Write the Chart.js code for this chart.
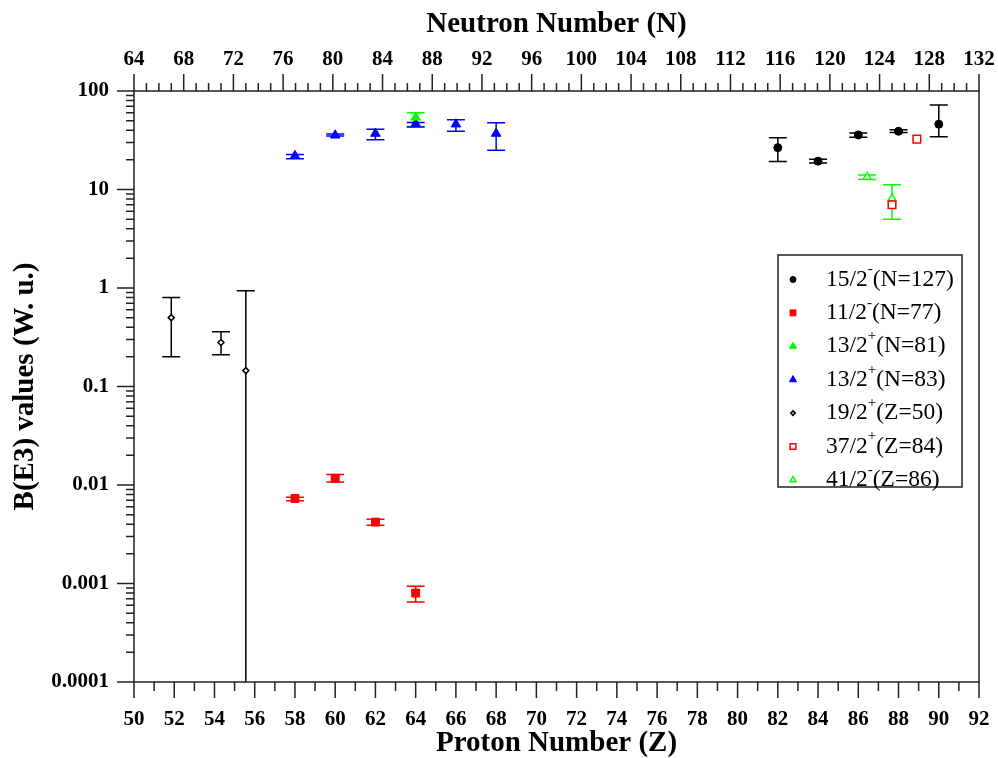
<!DOCTYPE html>
<html>
<head>
<meta charset="utf-8">
<script src="https://cdn.jsdelivr.net/npm/chart.js@4.4.1/dist/chart.umd.min.js"></script>
<style>
  html, body { margin: 0; padding: 0; background: #fff; }
  canvas { display: block; }
</style>
</head>
<body>
<canvas id="chart" width="998" height="758"></canvas>
<script>
// axis ticks
const zTicks = [50, 52, 54, 56, 58, 60, 62, 64, 66, 68, 70, 72, 74, 76, 78, 80, 82, 84, 86, 88, 90, 92];
const nTicks = [64, 68, 72, 76, 80, 84, 88, 92, 96, 100, 104, 108, 112, 116, 120, 124, 128, 132];
const yTicks = [0.0001, 0.001, 0.01, 0.1, 1, 10, 100];
const yTickLabels = ['0.0001', '0.001', '0.01', '0.1', '1', '10', '100'];

// 15/2- isomers, N=127, vs Z
const zN127 = [82, 84, 86, 88, 90];
const bN127 = [26.6, 19.4, 35.8, 39, 46];
const loN127 = [19.2, 18.6, 34, 38, 34.4];
const hiN127 = [33.6, 20.3, 37.5, 40.5, 72];

// 11/2- isomers, N=77, vs Z
const zN77 = [58, 60, 62, 64];
const bN77 = [0.0073, 0.0117, 0.0042, 0.0008];
const loN77 = [0.0069, 0.0107, 0.0039, 0.00065];
const hiN77 = [0.0075, 0.0128, 0.0045, 0.00094];

// 13/2+ isomers, N=81, vs Z
const zN81 = [64];
const bN81 = [54];
const loN81 = [43.5];
const hiN81 = [60];

// 13/2+ isomers, N=83, vs Z
const zN83 = [58, 60, 62, 64, 66, 68];
const bN83 = [22, 35.5, 37, 46.5, 46, 37];
const loN83 = [20.5, 35, 32, 43.2, 39, 25];
const hiN83 = [22.6, 36.5, 41, 47.8, 51, 47.5];

// 19/2+ isomers, Z=50, vs N
const nZ50 = [67, 71, 73];
const bZ50 = [0.5, 0.28, 0.145];
const loZ50 = [0.2, 0.21, 0.00001];
const hiZ50 = [0.8, 0.36, 0.94];

// 37/2+ isomers, Z=84, vs N
const nZ84 = [125, 127];
const bZ84 = [7, 32.5];

// 41/2- isomers, Z=86, vs N
const nZ86 = [123, 125];
const bZ86 = [13.4, 8.1];
const loZ86 = [12.6, 5];
const hiZ86 = [14, 11.2];

const pts = (xs, ys) => xs.map((x, i) => ({ x: x, y: ys[i] }));

Chart.defaults.font.family = "'Liberation Serif', 'Times New Roman', serif";
Chart.defaults.color = '#000';

const datasets = [
  { label: '15/2⁻(N=127)', data: pts(zN127, bN127), lo: loN127, hi: hiN127, xAxisID: 'x',
    pointStyle: 'circle', pointRadius: 4, backgroundColor: '#000', borderColor: '#000', borderWidth: 1 },
  { label: '11/2⁻(N=77)', data: pts(zN77, bN77), lo: loN77, hi: hiN77, xAxisID: 'x',
    pointStyle: 'rect', pointRadius: 5.6, backgroundColor: '#ff0000', borderColor: '#ff0000', borderWidth: 1 },
  { label: '13/2⁺(N=81)', data: pts(zN81, bN81), lo: loN81, hi: hiN81, xAxisID: 'x',
    pointStyle: 'triangle', pointRadius: 5.5, backgroundColor: '#00ff00', borderColor: '#00ff00', borderWidth: 1 },
  { label: '13/2⁺(N=83)', data: pts(zN83, bN83), lo: loN83, hi: hiN83, xAxisID: 'x',
    pointStyle: 'triangle', pointRadius: 5.5, backgroundColor: '#0000ff', borderColor: '#0000ff', borderWidth: 1 },
  { label: '19/2⁺(Z=50)', data: pts(nZ50, bZ50), lo: loZ50, hi: hiZ50, xAxisID: 'x2',
    pointStyle: 'rectRot', pointRadius: 3, backgroundColor: '#fff', borderColor: '#000', borderWidth: 1.5 },
  { label: '37/2⁺(Z=84)', data: pts(nZ84, bZ84), xAxisID: 'x2',
    pointStyle: 'rect', pointRadius: 5.4, backgroundColor: '#fff', borderColor: '#ff0000', borderWidth: 1.5 },
  { label: '41/2⁻(Z=86)', data: pts(nZ86, bZ86), lo: loZ86, hi: hiZ86, xAxisID: 'x2',
    pointStyle: 'triangle', pointRadius: 4.6, backgroundColor: '#fff', borderColor: '#00ff00', borderWidth: 1.5 }
];

// vertical error bars with caps
const errorBars = {
  id: 'errorBars',
  beforeDatasetsDraw(chart) {
    const { ctx, chartArea: a } = chart;
    const y = chart.scales.y;
    ctx.save();
    ctx.beginPath();
    ctx.rect(a.left, a.top, a.right - a.left, a.bottom - a.top);
    ctx.clip();
    ctx.lineWidth = 1.5;
    chart.data.datasets.forEach((ds, i) => {
      if (!ds.lo) return;
      ctx.strokeStyle = ds.borderColor;
      chart.getDatasetMeta(i).data.forEach((pt, j) => {
        const y1 = y.getPixelForValue(ds.lo[j]);
        const y2 = y.getPixelForValue(ds.hi[j]);
        ctx.beginPath();
        ctx.moveTo(pt.x, y1); ctx.lineTo(pt.x, y2);
        ctx.moveTo(pt.x - 9, y1); ctx.lineTo(pt.x + 9, y1);
        ctx.moveTo(pt.x - 9, y2); ctx.lineTo(pt.x + 9, y2);
        ctx.stroke();
      });
    });
    ctx.restore();
  }
};

// frame plus major / minor tick marks pointing outwards
const frame = {
  id: 'frame',
  afterDraw(chart) {
    const { ctx, chartArea: a, scales } = chart;
    ctx.save();
    ctx.strokeStyle = '#222';
    ctx.lineWidth = 1.5;
    ctx.strokeRect(a.left, a.top, a.right - a.left, a.bottom - a.top);
    ctx.beginPath();
    for (let z = 50; z <= 92; z++) {
      const px = scales.x.getPixelForValue(z);
      ctx.moveTo(px, a.bottom);
      ctx.lineTo(px, a.bottom + (z % 2 === 0 ? 16 : 9));
    }
    for (let n = 64; n <= 132; n++) {
      const px = scales.x2.getPixelForValue(n);
      ctx.moveTo(px, a.top);
      ctx.lineTo(px, a.top - (n % 4 === 0 ? 17 : 8));
    }
    for (let e = -4; e <= 2; e++) {
      for (let m = 1; m <= 9; m++) {
        const v = m * Math.pow(10, e);
        if (v > 100.0001) continue;
        const py = scales.y.getPixelForValue(v);
        ctx.moveTo(a.left, py);
        ctx.lineTo(a.left - (m === 1 ? 17 : 8), py);
      }
    }
    ctx.stroke();
    ctx.restore();
  }
};

// boxed legend inside the plot
const legendBox = {
  id: 'legendBox',
  afterDraw(chart) {
    const ctx = chart.ctx;
    ctx.save();
    ctx.strokeStyle = '#222';
    ctx.lineWidth = 1.5;
    ctx.strokeRect(778, 255, 184, 232);
    chart.data.datasets.forEach((ds, i) => {
      const y = 279.5 + i * 33.4;
      ctx.fillStyle = ds.backgroundColor;
      ctx.strokeStyle = ds.borderColor;
      ctx.lineWidth = ds.borderWidth;
      Chart.helpers.drawPoint(ctx, {
        pointStyle: ds.pointStyle, radius: ds.pointRadius * 0.75,
        borderWidth: ds.borderWidth, rotation: 0
      }, 793, y);
      const parts = ds.label.split(/([⁻⁺])/);
      let x = 826;
      ctx.fillStyle = '#000';
      ctx.textBaseline = 'middle';
      ctx.font = "23.5px 'Liberation Serif'";
      ctx.fillText(parts[0], x, y);
      x += ctx.measureText(parts[0]).width;
      ctx.font = "15px 'Liberation Serif'";
      const sup = parts[1] === '⁻' ? '-' : '+';
      ctx.fillText(sup, x, y - 10);
      x += ctx.measureText(sup).width;
      ctx.font = "23.5px 'Liberation Serif'";
      ctx.fillText(parts[2], x, y);
    });
    ctx.restore();
  }
};

const noSidePad = s => { s.paddingLeft = 0; s.paddingRight = 0; };
const titleFont = { size: 29, weight: 'bold', lineHeight: 1 };

new Chart(document.getElementById('chart'), {
  type: 'scatter',
  data: { datasets: datasets },
  options: {
    responsive: false,
    animation: false,
    layout: { padding: { left: 0, right: 19, top: 0, bottom: 0 } },
    plugins: { legend: { display: false }, tooltip: { enabled: false } },
    scales: {
      x: {
        type: 'linear', position: 'bottom', min: 50, max: 92,
        afterBuildTicks: s => { s.ticks = zTicks.map(v => ({ value: v })); },
        afterFit: s => { s.height = 76; noSidePad(s); },
        grid: { display: false, drawTicks: false },
        border: { display: false },
        ticks: { padding: 25, autoSkip: false, maxRotation: 0, color: '#000', font: { size: 21, weight: 'bold' } },
        title: { display: true, text: 'Proton Number (Z)', color: '#000', font: titleFont, padding: { top: 0, bottom: 0 } }
      },
      x2: {
        type: 'linear', position: 'top', min: 64, max: 132,
        afterBuildTicks: s => { s.ticks = nTicks.map(v => ({ value: v })); },
        afterFit: s => { s.height = 91; noSidePad(s); },
        grid: { display: false, drawTicks: false },
        border: { display: false },
        ticks: { padding: 19, autoSkip: false, maxRotation: 0, color: '#000', font: { size: 21, weight: 'bold' } },
        title: { display: true, text: 'Neutron Number (N)', color: '#000', font: titleFont, padding: { top: 10, bottom: 0 } }
      },
      y: {
        type: 'logarithmic', position: 'left', min: 0.0001, max: 100,
        afterBuildTicks: s => { s.ticks = yTicks.map(v => ({ value: v })); },
        afterFit: s => { s.width = 134; },
        grid: { display: false, drawTicks: false },
        border: { display: false },
        ticks: { padding: 25, autoSkip: false, color: '#000', font: { size: 21, weight: 'bold' },
          callback: (v, i) => yTickLabels[i] },
        title: { display: true, text: 'B(E3) values (W. u.)', color: '#000', font: titleFont, padding: { top: 11, bottom: 0 } }
      }
    }
  },
  plugins: [errorBars, frame, legendBox]
});
</script>
</body>
</html>
